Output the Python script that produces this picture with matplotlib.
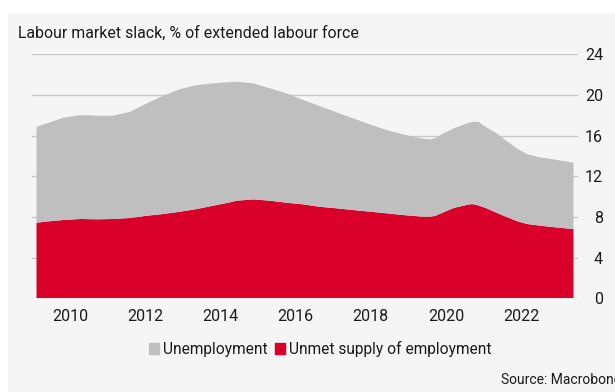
import matplotlib.pyplot as plt
from matplotlib.patches import Patch, Rectangle

plt.rcParams['font.family'] = ['Roboto', 'DejaVu Sans']

years = [2009.11, 2009.38, 2009.82, 2010.27, 2010.71, 2011.15, 2011.6, 2012.04,
         2012.48, 2012.93, 2013.37, 2013.81, 2014.26, 2014.43, 2014.88, 2015.32,
         2015.76, 2016.2, 2016.65, 2017.09, 2017.53, 2017.98, 2018.42, 2018.86,
         2019.31, 2019.57, 2019.71, 2019.93, 2020.2, 2020.59, 2020.7, 2020.86,
         2021.08, 2021.35, 2021.61, 2021.88, 2022.15, 2022.5, 2022.85, 2023.39]

# unmet supply of employment, % of extended labour force
unmet = [7.43, 7.55, 7.7, 7.8, 7.77, 7.8, 7.9, 8.12,
         8.29, 8.52, 8.78, 9.11, 9.44, 9.6, 9.73, 9.6,
         9.4, 9.24, 9.0, 8.85, 8.68, 8.52, 8.36, 8.19,
         8.05, 8.03, 8.1, 8.45, 8.88, 9.22, 9.27, 9.14,
         8.85, 8.4, 8.0, 7.6, 7.31, 7.15, 7.0, 6.81]

# unemployment, stacked on top
unemployment = [9.44, 9.65, 10.06, 10.22, 10.19, 10.16, 10.45, 11.05,
                11.63, 12.06, 12.19, 12.03, 11.83, 11.7, 11.41, 11.05,
                10.76, 10.26, 9.9, 9.44, 9.02, 8.58, 8.19, 7.93,
                7.7, 7.6, 7.65, 7.77, 7.82, 8.03, 8.08, 8.23,
                7.95, 7.82, 7.47, 7.15, 6.88, 6.71, 6.67, 6.53]

xticks = [2010, 2012, 2014, 2016, 2018, 2020, 2022]
yticks = [0, 4, 8, 12, 16, 20, 24]

RED = '#d9002a'
GREY = '#bfbfbf'
BG = '#f5f5f5'
TXT = '#1a1a1a'

fig = plt.figure(figsize=(6.15, 3.92), dpi=100, facecolor='white')
fig.patches.append(Rectangle((8 / 615, 0), 1, 1 - 12.5 / 392,
                             transform=fig.transFigure, facecolor=BG,
                             edgecolor='none', zorder=-10))

ax = fig.add_axes([32 / 615, 1 - 298.3 / 392, 546 / 615, 244 / 392])
ax.set_facecolor('none')

for y in yticks:
    ax.axhline(y, color='#c8c8c8', lw=1, zorder=0)

ax.stackplot(years, unmet, unemployment, colors=[RED, GREY],
             linewidth=0, zorder=2)

ax.set_xlim(2008.99, 2023.51)
ax.set_ylim(0, 24)
for s in ax.spines.values():
    s.set_visible(False)

ax.set_xticks(xticks)
ax.set_xticklabels([str(t) for t in xticks])
ax.yaxis.tick_right()
ax.set_yticks(yticks)
ax.set_yticklabels([str(t) for t in yticks], ha='right')
ax.tick_params(axis='y', length=0, pad=18, labelsize=11.5, labelcolor=TXT)
ax.tick_params(axis='x', length=0, pad=8, labelsize=11.5, labelcolor=TXT)

fig.text(18 / 615, 1 - 33 / 392, 'Labour market slack, % of extended labour force',
         fontsize=11.4, color=TXT, va='center', ha='left')

handles = [Patch(color=GREY, label='Unemployment'),
           Patch(color=RED, label='Unmet supply of employment')]
fig.legend(handles=handles, loc='center', bbox_to_anchor=(320 / 615, 1 - 349 / 392),
           ncol=2, frameon=False, fontsize=11.2, handlelength=0.65, handleheight=0.65,
           handletextpad=0.25, columnspacing=0.5, labelcolor=TXT)

fig.text(501 / 615, 1 - 380 / 392, 'Source: Macrobond', fontsize=10,
         color=TXT, va='center', ha='left')

fig.savefig('out.png', dpi=100, facecolor='white')
